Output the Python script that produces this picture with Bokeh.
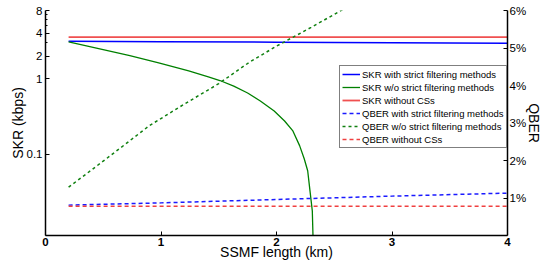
from bokeh.plotting import figure
from bokeh.models import (Range1d, LinearAxis, LinearScale, FixedTicker, CustomJSTickFormatter,
                          Legend, LegendItem)
from bokeh.embed import file_html
from bokeh.resources import INLINE

# ---- data ----
x_line = [0.2, 1.0, 2.0, 3.0, 4.0]
skr_strict = [3.14, 3.10, 3.05, 3.00, 2.96]
skr_nocs = [3.55, 3.55, 3.55, 3.55, 3.55]

skr_wo_x = [0.2, 0.47, 0.73, 0.98, 1.24, 1.41, 1.51, 1.63, 1.75, 1.86, 1.98, 2.07,
            2.14, 2.20, 2.24, 2.27, 2.29, 2.31, 2.32]
skr_wo = [3.09, 2.49, 2.02, 1.62, 1.27, 1.06, 0.95, 0.80, 0.65, 0.51, 0.375, 0.277,
          0.207, 0.131, 0.088, 0.061, 0.033, 0.018, 0.005]

qber_strict = [0.81, 0.87, 0.96, 1.05, 1.13]
qber_nocs = [0.78, 0.78, 0.78, 0.78, 0.78]

qber_wo_x = [0.2, 0.4, 0.6, 0.9, 1.2, 1.5, 1.76, 2.0, 2.3, 2.6]
qber_wo = [1.29, 1.75, 2.22, 2.93, 3.50, 4.05, 4.61, 5.05, 5.55, 6.07]

x_ticks = [0, 1, 2, 3, 4]
skr_ticks = [0.1, 1, 2, 4, 8]
skr_minor = [3, 5, 6, 7]
qber_ticks = [1, 2, 3, 4, 5, 6]

FONT = "Liberation Sans"

p = figure(width=545, height=270, output_backend="svg", toolbar_location=None,
           y_axis_type="log", x_range=Range1d(0, 4), y_range=Range1d(0.0085, 8),
           min_border_left=45, min_border_right=31, min_border_top=10, min_border_bottom=35)
p.extra_y_ranges = {"qber": Range1d(0, 6)}
p.extra_y_scales = {"qber": LinearScale()}
p.outline_line_color = None
p.xgrid.visible = False
p.ygrid.visible = False
p.background_fill_color = "white"

r1 = p.line(x_line, skr_strict, line_color="#0000FF", line_width=1.5)
r2 = p.line(skr_wo_x, skr_wo, line_color="#008000", line_width=1.3)
r3 = p.line(x_line, skr_nocs, line_color="#F05050", line_width=1.8)
r4 = p.line(x_line, qber_strict, line_color="#1A1AFF", line_width=1.5, line_dash="4 3",
            y_range_name="qber")
r5 = p.line(qber_wo_x, qber_wo, line_color="#108010", line_width=1.5, line_dash="3 3",
            y_range_name="qber")
r6 = p.line(x_line, qber_nocs, line_color="#F04040", line_width=1.5, line_dash="4 3",
            y_range_name="qber")

# axes styling
def style_axis(ax, title):
    ax.axis_line_color = "black"
    ax.axis_line_width = 1.5
    ax.major_tick_in = 4
    ax.major_tick_out = 0
    ax.minor_tick_in = 2
    ax.minor_tick_out = 0
    ax.major_tick_line_color = "black"
    ax.major_label_text_font = FONT
    ax.major_label_text_font_size = "11.5px"
    ax.major_label_text_color = "black"
    ax.axis_label = title
    ax.axis_label_text_font = FONT
    ax.axis_label_text_font_size = "14px"
    ax.axis_label_text_font_style = "normal"
    ax.axis_label_text_color = "black"
    ax.axis_label_standoff = 0

xa = p.xaxis[0]
style_axis(xa, "SSMF length (km)")
xa.ticker = FixedTicker(ticks=x_ticks)
xa.minor_tick_line_color = None
xa.major_label_standoff = 2
xa.axis_label_standoff = -5
xa.major_label_text_font_style = "bold"

ya = p.yaxis[0]
style_axis(ya, "SKR (kbps)")
ya.ticker = FixedTicker(ticks=skr_ticks, minor_ticks=skr_minor)
ya.formatter = CustomJSTickFormatter(code="return tick.toString();")
ya.major_label_standoff = 3
ya.axis_label_standoff = -2

ra = LinearAxis(y_range_name="qber")
style_axis(ra, "QBER")
ra.ticker = FixedTicker(ticks=qber_ticks)
ra.minor_tick_line_color = None
ra.formatter = CustomJSTickFormatter(code="return tick.toString() + '%';")
ra.major_label_standoff = 2
ra.axis_label_standoff = -3
p.add_layout(ra, "right")

legend = Legend(items=[
    LegendItem(label="SKR with strict filtering methods", renderers=[r1]),
    LegendItem(label="SKR w/o strict filtering methods", renderers=[r2]),
    LegendItem(label="SKR without CSs", renderers=[r3]),
    LegendItem(label="QBER with strict filtering methods", renderers=[r4]),
    LegendItem(label="QBER w/o strict filtering methods", renderers=[r5]),
    LegendItem(label="QBER without CSs", renderers=[r6]),
], location=(294, 87))
legend.label_text_font = FONT
legend.label_text_font_size = "9.5px"
legend.label_text_color = "black"
legend.label_standoff = 2
legend.glyph_width = 18
legend.glyph_height = 12
legend.label_height = 12
legend.spacing = 1
legend.padding = 2
legend.margin = 0
legend.border_line_color = "black"
legend.border_line_width = 1
legend.background_fill_color = "white"
legend.background_fill_alpha = 1.0
p.add_layout(legend)

open("out.html", "w").write(file_html(p, INLINE))
